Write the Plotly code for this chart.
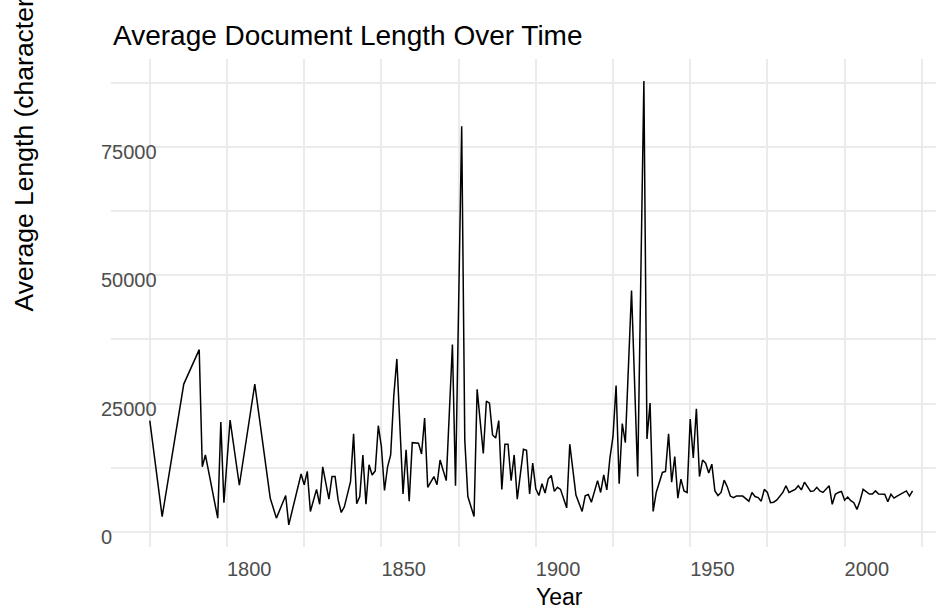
import plotly.graph_objects as go

# ---- data ----
years = [
    1775, 1779, 1786, 1791, 1792, 1793, 1797, 1798, 1799, 1801, 1804, 1809, 1814, 1816,
    1819, 1820, 1824, 1825, 1826, 1827, 1829, 1830, 1831, 1833, 1834, 1835, 1836, 1837,
    1838, 1839, 1840, 1841, 1842, 1843, 1844, 1845, 1846, 1847, 1848, 1849, 1850, 1851,
    1852, 1853, 1854, 1855, 1857, 1858, 1859, 1860, 1862, 1863, 1864, 1865, 1867, 1868,
    1869, 1871, 1873, 1874, 1876, 1877, 1878, 1880, 1881, 1883, 1884, 1885, 1886, 1887,
    1888, 1889, 1890, 1891, 1892, 1893, 1894, 1896, 1897, 1898, 1899, 1900, 1901, 1902,
    1903, 1904, 1905, 1906, 1907, 1908, 1910, 1911, 1913, 1915, 1916, 1917, 1918, 1920,
    1921, 1922, 1923, 1924, 1925, 1926, 1927, 1928, 1929, 1931, 1933, 1935, 1936, 1937,
    1938, 1939, 1941, 1942, 1943, 1944, 1945, 1946, 1947, 1948, 1949, 1950, 1951, 1952,
    1953, 1954, 1955, 1956, 1957, 1958, 1959, 1960, 1961, 1962, 1963, 1964, 1965, 1967,
    1969, 1970, 1971, 1972, 1973, 1974, 1975, 1976, 1977, 1978, 1979, 1980, 1981, 1982,
    1984, 1985, 1986, 1987, 1989, 1990, 1991, 1992, 1993, 1995, 1996, 1997, 1998, 1999,
    2000, 2001, 2002, 2003, 2004, 2005, 2006, 2008, 2009, 2010, 2011, 2013, 2014, 2015,
    2016, 2017, 2020, 2021, 2022,
]
avg_length = [
    21700, 3000, 28800, 35500, 12700, 15000, 2700, 21400, 5700, 21800, 9100, 28800, 6600, 2700,
    7100, 1400, 11300, 9200, 11800, 4000, 8300, 5400, 12700, 6400, 10800, 10800, 6200, 3800,
    4900, 7200, 9800, 19100, 5500, 6900, 15000, 5400, 13100, 11100, 11900, 20700, 16600, 8100,
    12700, 15000, 26400, 33700, 7400, 16000, 6000, 17400, 17300, 15200, 22200, 8700, 10800, 9200,
    14000, 10000, 36500, 9000, 79000, 17900, 6900, 3000, 27800, 15300, 25500, 25100, 18900, 18300,
    21700, 8300, 17100, 17100, 10000, 15000, 6400, 16100, 15900, 7400, 13400, 8400, 7100, 9400,
    7600, 10300, 11000, 7900, 8700, 8300, 4700, 17100, 7200, 4000, 7050, 7300, 5800, 10000,
    7700, 11100, 8200, 14400, 18600, 28500, 9400, 21100, 17400, 47000, 10800, 87800, 18100, 25100,
    4000, 7700, 11600, 11800, 19100, 9700, 14700, 6600, 10300, 8000, 7700, 22000, 14400, 24000,
    10800, 14000, 13400, 11500, 13200, 8000, 7100, 7700, 10100, 8800, 7000, 6700, 7000, 7000,
    6000, 7700, 6900, 6700, 6000, 8300, 7700, 5700, 5800, 6200, 6900, 7700, 9000, 7700,
    8300, 9000, 8200, 9700, 7900, 8000, 8700, 8000, 7700, 9000, 5400, 7350, 7700, 7900,
    6200, 6800, 6100, 5700, 4400, 6100, 8300, 7400, 7400, 8000, 7400, 7350, 5900, 7350,
    6600, 7000, 8000, 7000, 8000,
]

x_tick_years = [1800, 1850, 1900, 1950, 2000]
x_grid_years = [1775, 1800, 1825, 1850, 1875, 1900, 1925, 1950, 1975, 2000, 2025]
y_ticks = [0, 25000, 50000, 75000]
y_tick_labels = ["0", "25000", "50000", "75000"]
y_grid = [0, 12500, 25000, 37500, 50000, 62500, 75000, 87500]

# ---- geometry (pixels of the 936x613 page) ----
W, H = 936, 613
L, R, T, B = 111, 0, 59, 66
px_per_year = 3.088
x_range = [1800 - (227 - L) / px_per_year, 1800 + (W - R - 227) / px_per_year]
units_per_px = 194.7
y_range = [-(H - B - 532) * units_per_px, (532 - T) * units_per_px]
PW = W - L - R

GRID = "#EBEBEB"
FONT = "Liberation Sans, Arial, Helvetica, sans-serif"

fig = go.Figure()
fig.add_trace(go.Scatter(x=years, y=avg_length, mode="lines",
                         line=dict(color="black", width=1.5), hoverinfo="x+y"))

fig.update_layout(
    width=W, height=H, autosize=False,
    margin=dict(l=L, r=R, t=T, b=B, pad=0),
    paper_bgcolor="white", plot_bgcolor="white",
    showlegend=False,
    font=dict(family=FONT, color="black"),
    title=dict(text="Average Document Length Over Time", x=113 / W, xref="container",
               xanchor="left", y=1 - 35 / H, yref="container", yanchor="middle",
               font=dict(size=28, color="black", family=FONT)),
)

fig.update_xaxes(
    range=x_range, tickvals=x_tick_years, ticktext=[str(v) for v in x_tick_years],
    showgrid=True, gridcolor=GRID, gridwidth=1.6,
    minor=dict(tickvals=x_grid_years, showgrid=True, gridcolor=GRID, gridwidth=1.6, ticks=""),
    zeroline=False, showline=False, ticks="", automargin=False,
    ticklabelposition="outside right", ticklabelstandoff=8,
    tickfont=dict(size=20, color="#4D4D4D", family=FONT),
)
fig.update_yaxes(
    range=y_range, tickvals=y_ticks, showticklabels=False,
    showgrid=True, gridcolor=GRID, gridwidth=1.6,
    minor=dict(tickvals=y_grid, showgrid=True, gridcolor=GRID, gridwidth=1.6, ticks=""),
    zeroline=False, showline=False, ticks="", automargin=False,
)

# y tick labels: left-aligned, starting just left of the panel, as in the reference
for v, lab in zip(y_ticks, y_tick_labels):
    fig.add_annotation(text=lab, xref="paper", yref="y", x=(99 - L) / PW, y=v,
                       xanchor="left", yanchor="middle", yshift=-5, showarrow=False,
                       font=dict(size=20, color="#4D4D4D", family=FONT))

fig.add_annotation(text="Year", xref="paper", yref="paper",
                   x=(534 - L) / PW, y=-(597 - (H - B)) / (H - T - B),
                   xanchor="left", yanchor="middle", showarrow=False,
                   font=dict(size=23, color="black", family=FONT))
fig.add_annotation(text="Average Length (characters)", xref="paper", yref="paper",
                   textangle=-90, x=-(L - 23) / PW, y=(H - B - 314) / (H - T - B),
                   xanchor="center", yanchor="bottom", showarrow=False,
                   font=dict(size=26.5, color="black", family=FONT))

fig.write_html("out.html", config={"displayModeBar": False},
               post_script="document.body.style.margin='0';document.body.style.overflow='hidden';")
